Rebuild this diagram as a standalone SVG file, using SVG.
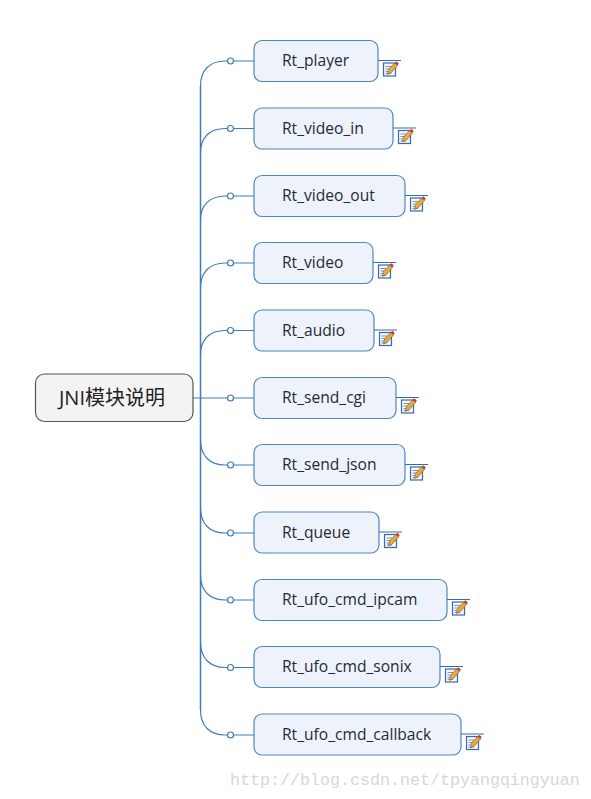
<svg xmlns="http://www.w3.org/2000/svg" width="591" height="799" viewBox="0 0 591 799">
<style>
.bg{fill:#fff}
.box{fill:#eef3fb;stroke:#4d86c2;stroke-width:1.2}
.root{fill:#f3f3f3;stroke:#555;stroke-width:1.2}
.t{font-family:"Open Sans","Noto Sans","Liberation Sans",sans-serif;font-size:15.600px;fill:#1f2a33}
.rt{font-family:"Open Sans","Noto Sans CJK SC",sans-serif;font-size:20px;fill:#222}
.c{fill:none;stroke:#3f7cbc;stroke-width:1.2}
.dot{fill:#fff;stroke:#3f7cbc;stroke-width:1.2}
.wm{font-family:"Liberation Mono","DejaVu Sans Mono",monospace;font-size:16.670px;fill:#d8d8d2}
</style>
<defs>
<g id="note">
<path d="M0 0H23" fill="none" stroke="#2f6fb5" stroke-width="1"/>
<rect x="5.500" y="2.500" width="12" height="13" fill="#f4f7fc" stroke="#3a68b0" stroke-width="1.200"/>
<path d="M7.500 6H13M7.500 8.500H12M7.500 11H10M7.500 13H13" stroke="#7e93b8" stroke-width="1" fill="none"/>
<path d="M9.500 14L10.500 9L16.500 2.500L19.500 5L13.500 12Z" fill="#e8a93c" stroke="#6b5a2a" stroke-width=".6"/>
<path d="M16.500 2.500L18.500 0.800L20.800 3L19.500 5Z" fill="#c8403c"/>
</g>
</defs>
<rect class="bg" width="591" height="799"/>
<g id="connectors">
<path class="c" d="M193 398H254M200.500 86C200.500 70 210 61 225 61H254M200.500 153C200.500 137 210 128.500 225 128.500H254M200.500 220C200.500 205 210 196 225 196H254M200.500 288C200.500 272 210 263 225 263H254M200.500 355C200.500 339 210 330.500 225 330.500H254M200.500 440C200.500 456 210 465 225 465H254M200.500 508C200.500 524 210 533 225 533H254M200.500 575C200.500 591 210 600 225 600H254M200.500 642C200.500 658 210 667.500 225 667.500H254M200.500 710C200.500 726 210 735 225 735H254"/>
<path d="M200.500 86V710" fill="none" stroke="#3f7cbc" stroke-width="1.500"/>
<circle class="dot" cx="230.500" cy="61" r="3"/>
<circle class="dot" cx="230.500" cy="128.500" r="3"/>
<circle class="dot" cx="230.500" cy="196" r="3"/>
<circle class="dot" cx="230.500" cy="263" r="3"/>
<circle class="dot" cx="230.500" cy="330.500" r="3"/>
<circle class="dot" cx="230.500" cy="398" r="3"/>
<circle class="dot" cx="230.500" cy="465" r="3"/>
<circle class="dot" cx="230.500" cy="533" r="3"/>
<circle class="dot" cx="230.500" cy="600" r="3"/>
<circle class="dot" cx="230.500" cy="667.500" r="3"/>
<circle class="dot" cx="230.500" cy="735" r="3"/>
</g>
<g id="root"><rect class="root" x="35.500" y="374" width="157.500" height="47.500" rx="9"/><text class="rt" x="59" y="404.500">JNI模块说明</text></g>
<g id="n1"><rect class="box" x="254" y="40.500" width="124" height="41" rx="8"/><text class="t" x="282" y="66">Rt_player</text><use href="#note" x="378" y="60.500"/></g>
<g id="n2"><rect class="box" x="254" y="108" width="139" height="41" rx="8"/><text class="t" x="282" y="133.500">Rt_video_in</text><use href="#note" x="393" y="128"/></g>
<g id="n3"><rect class="box" x="254" y="175.500" width="151" height="41" rx="8"/><text class="t" x="282" y="201">Rt_video_out</text><use href="#note" x="405" y="195.500"/></g>
<g id="n4"><rect class="box" x="254" y="242.500" width="119" height="41" rx="8"/><text class="t" x="282" y="268">Rt_video</text><use href="#note" x="373" y="262.500"/></g>
<g id="n5"><rect class="box" x="254" y="310" width="120" height="41" rx="8"/><text class="t" x="282" y="335.500">Rt_audio</text><use href="#note" x="374" y="330"/></g>
<g id="n6"><rect class="box" x="254" y="377.500" width="142" height="41" rx="8"/><text class="t" x="282" y="403">Rt_send_cgi</text><use href="#note" x="396" y="397.500"/></g>
<g id="n7"><rect class="box" x="254" y="444.500" width="151" height="41" rx="8"/><text class="t" x="282" y="470">Rt_send_json</text><use href="#note" x="405" y="464.500"/></g>
<g id="n8"><rect class="box" x="254" y="512" width="125" height="41" rx="8"/><text class="t" x="282" y="537.500">Rt_queue</text><use href="#note" x="379" y="532"/></g>
<g id="n9"><rect class="box" x="254" y="579.500" width="193" height="41" rx="8"/><text class="t" x="282" y="605">Rt_ufo_cmd_ipcam</text><use href="#note" x="447" y="599.500"/></g>
<g id="n10"><rect class="box" x="254" y="646.500" width="186" height="41" rx="8"/><text class="t" x="282" y="672">Rt_ufo_cmd_sonix</text><use href="#note" x="440" y="666.500"/></g>
<g id="n11"><rect class="box" x="254" y="714" width="207" height="41" rx="8"/><text class="t" x="282" y="739.500">Rt_ufo_cmd_callback</text><use href="#note" x="461" y="734"/></g>
<text class="wm" x="230" y="785">http://blog.csdn.net/tpyangqingyuan</text>
</svg>
